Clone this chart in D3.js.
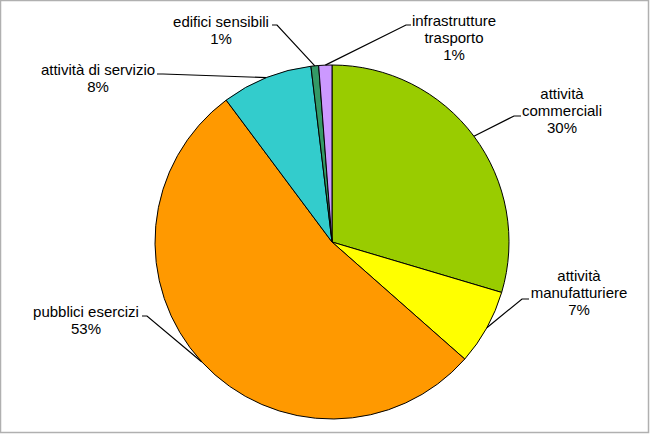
<!DOCTYPE html>
<html>
<head>
<meta charset="utf-8">
<script src="https://cdn.jsdelivr.net/npm/d3@7"></script>
<style>
  html, body { margin: 0; padding: 0; background: #fff; }
  svg { display: block; }
  text { font-family: "Liberation Sans", Arial, sans-serif; font-size: 15px; fill: #000; }
</style>
</head>
<body>
<svg id="chart" width="650" height="434"></svg>
<script>
// ---- data ----
const categories = [
  "attività commerciali",
  "attività manufatturiere",
  "pubblici esercizi",
  "attività di servizio",
  "edifici sensibili",
  "infrastrutture trasporto"
];
const values = [29.6, 6.9, 53.3, 8.3, 0.7, 1.2];
const percentLabels = ["30%", "7%", "53%", "8%", "1%", "1%"];
const labelLines = [
  ["attività", "commerciali", "30%"],
  ["attività", "manufatturiere", "7%"],
  ["pubblici esercizi", "53%"],
  ["attività di servizio", "8%"],
  ["edifici sensibili", "1%"],
  ["infrastrutture", "trasporto", "1%"]
];
const colors = ["#99cc00", "#ffff00", "#ff9900", "#33cccc", "#339966", "#cc99ff"];

// ---- layout (label placement, not data) ----
const W = 650, H = 434;
const cx = 332, cy = 242, R = 177;
const lineH = 17;
// label center x, first baseline y, leader attach side x (text), elbow x, leader y
const labelLayout = [
  { x: 562, y: 99,  tx: 521, ex: 514, ly: 116 },
  { x: 579, y: 281, tx: 529, ex: 522, ly: 299 },
  { x: 86,  y: 317, tx: 142, ex: 147, ly: 316 },
  { x: 98,  y: 75,  tx: 157, ex: 163, ly: 74 },
  { x: 221, y: 27,  tx: 272, ex: 277, ly: 25 },
  { x: 454, y: 26,  tx: 411, ex: 406, ly: 25 }
];

const svg = d3.select("#chart");

svg.append("rect")
  .attr("x", 0.5).attr("y", 0.5)
  .attr("width", 648).attr("height", 432)
  .attr("fill", "#fff")
  .attr("stroke", "#b0b0b0")
  .attr("stroke-width", 1.5);

const pie = d3.pie().sort(null).value(d => d)
  .startAngle(0).endAngle(2 * Math.PI);
const arcs = pie(values);
const arc = d3.arc().innerRadius(0).outerRadius(R);
const edgeArc = d3.arc().innerRadius(R).outerRadius(R);

const g = svg.append("g").attr("transform", `translate(${cx},${cy})`);

g.selectAll("path.slice")
  .data(arcs)
  .join("path")
  .attr("class", "slice")
  .attr("d", arc)
  .attr("fill", (d, i) => colors[i])
  .attr("stroke", "#000")
  .attr("stroke-width", 1)
  .attr("stroke-linejoin", "round");

// leader lines
arcs.forEach((d, i) => {
  const L = labelLayout[i];
  const c = edgeArc.centroid(d);
  const px = cx + c[0], py = cy + c[1];
  svg.append("polyline")
    .attr("points", `${L.tx},${L.ly} ${L.ex},${L.ly} ${px},${py}`)
    .attr("fill", "none")
    .attr("stroke", "#000")
    .attr("stroke-width", 1.2);
});

// labels
labelLines.forEach((lines, i) => {
  const L = labelLayout[i];
  const t = svg.append("text")
    .attr("text-anchor", "middle");
  lines.forEach((ln, j) => {
    t.append("tspan")
      .attr("x", L.x)
      .attr("y", L.y + j * lineH)
      .text(ln);
  });
});
</script>
</body>
</html>
